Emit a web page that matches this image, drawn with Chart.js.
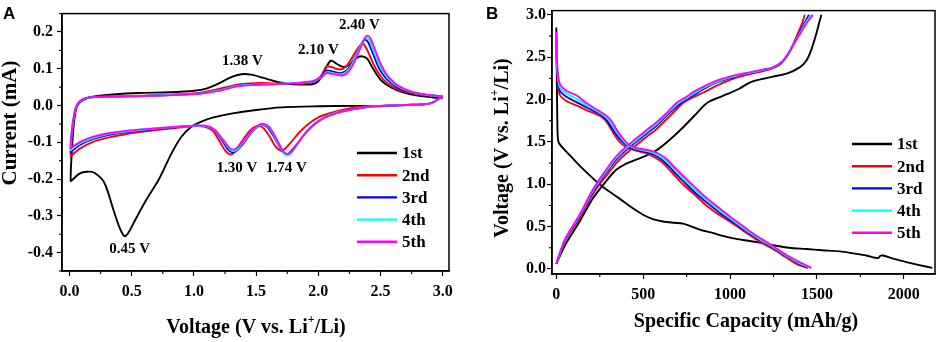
<!DOCTYPE html>
<html>
<head>
<meta charset="utf-8">
<script src="https://cdn.jsdelivr.net/npm/chart.js@4.4.0/dist/chart.umd.min.js"></script>
<style>
  body { margin: 0; background: #fff; }
  #wrap { position: relative; width: 941px; height: 342px; }
  #panelA { position: absolute; left: 0; top: 0; }
  #panelB { position: absolute; left: 470px; top: 0; }
</style>
</head>
<body>
<div id="wrap">
  <canvas id="panelA" width="470" height="342"></canvas>
  <canvas id="panelB" width="471" height="342"></canvas>
</div>
<script>
// ---- Datos ----
const cycleLabels = ['1st', '2nd', '3rd', '4th', '5th'];

// Panel A: voltamperometría cíclica [voltaje (V), corriente (mA)]
const cvCycle1 = [
  [2.63,-0.001],[2.3,-0.001],[2.0,-0.002],[1.7,-0.005],[1.5,-0.012],[1.3,-0.022],[1.15,-0.033],
  [1.05,-0.045],[0.98,-0.058],[0.9,-0.085],[0.82,-0.13],[0.72,-0.2],[0.62,-0.255],[0.53,-0.31],
  [0.47,-0.348],[0.44,-0.355],[0.4,-0.33],[0.35,-0.28],[0.28,-0.21],[0.2,-0.183],[0.14,-0.18],
  [0.08,-0.185],[0.03,-0.2],[0.01,-0.205],[0.02,-0.12],[0.035,-0.05],[0.055,-0.008],[0.08,0.008],
  [0.13,0.019],[0.2,0.025],[0.35,0.03],[0.55,0.034],[0.8,0.036],[1.0,0.04],[1.1,0.046],[1.2,0.06],
  [1.3,0.077],[1.38,0.085],[1.46,0.084],[1.55,0.076],[1.65,0.066],[1.75,0.059],[1.85,0.057],
  [1.95,0.058],[2.0,0.066],[2.05,0.095],[2.1,0.122],[2.15,0.113],[2.2,0.105],[2.25,0.11],
  [2.3,0.128],[2.345,0.134],[2.39,0.128],[2.44,0.1],[2.5,0.07],[2.58,0.05],[2.68,0.036],
  [2.8,0.027],[2.92,0.022],[3.0,0.02]
];
const cvCycle2 = [
  [3.0,0.025],[2.9,0.006],[2.75,0.002],[2.55,0.0],[2.4,-0.002],[2.3,-0.005],[2.2,-0.011],[2.1,-0.02],
  [2.0,-0.032],[1.92,-0.05],[1.85,-0.072],[1.78,-0.1],[1.73,-0.118],[1.7,-0.123],[1.66,-0.113],
  [1.6,-0.08],[1.55,-0.059],[1.5,-0.057],[1.45,-0.068],[1.38,-0.1],[1.32,-0.128],[1.29,-0.133],
  [1.25,-0.122],[1.2,-0.094],[1.15,-0.068],[1.08,-0.057],[1.0,-0.056],[0.85,-0.061],[0.65,-0.069],
  [0.45,-0.078],[0.3,-0.088],[0.18,-0.1],[0.08,-0.118],[0.02,-0.135],[0.01,-0.14],
  [0.015,-0.1],[0.03,-0.05],[0.05,-0.01],[0.08,0.008],[0.13,0.019],[0.2,0.023],[0.35,0.025],
  [0.6,0.027],[0.9,0.031],[1.05,0.035],[1.2,0.045],[1.35,0.057],[1.5,0.061],[1.65,0.06],[1.8,0.059],
  [1.95,0.064],[2.02,0.08],[2.065,0.106],[2.11,0.104],[2.17,0.098],[2.22,0.105],[2.28,0.135],
  [2.33,0.162],[2.355,0.168],[2.38,0.16],[2.42,0.13],[2.47,0.095],[2.52,0.072],[2.6,0.05],
  [2.7,0.037],[2.85,0.029],[2.97,0.026],[3.0,0.025]
];
const cvCycle3 = [
  [3.0,0.025],[2.9,0.006],[2.75,0.002],[2.6,0.0],[2.45,-0.002],[2.35,-0.006],[2.25,-0.012],[2.15,-0.02],
  [2.05,-0.033],[1.97,-0.05],[1.9,-0.074],[1.83,-0.105],[1.77,-0.128],[1.745,-0.134],[1.71,-0.125],
  [1.66,-0.095],[1.6,-0.062],[1.56,-0.053],[1.52,-0.056],[1.47,-0.07],[1.4,-0.102],[1.34,-0.124],
  [1.31,-0.128],[1.27,-0.118],[1.22,-0.092],[1.16,-0.066],[1.09,-0.056],[1.0,-0.055],[0.85,-0.059],
  [0.65,-0.066],[0.45,-0.073],[0.3,-0.081],[0.18,-0.092],[0.08,-0.108],[0.02,-0.124],[0.01,-0.128],
  [0.015,-0.09],[0.03,-0.045],[0.05,-0.008],[0.08,0.009],[0.13,0.019],[0.2,0.023],[0.35,0.024],
  [0.6,0.026],[0.9,0.03],[1.05,0.033],[1.2,0.042],[1.35,0.054],[1.5,0.058],[1.65,0.059],[1.8,0.06],
  [1.95,0.064],[2.02,0.077],[2.065,0.095],[2.11,0.093],[2.18,0.088],[2.24,0.1],[2.3,0.135],
  [2.35,0.17],[2.375,0.179],[2.4,0.172],[2.44,0.14],[2.49,0.1],[2.55,0.072],[2.63,0.05],
  [2.73,0.037],[2.87,0.029],[2.97,0.026],[3.0,0.025]
];
const cvCycle4 = [
  [3.0,0.025],[2.9,0.006],[2.75,0.002],[2.6,0.0],[2.45,-0.002],[2.35,-0.006],[2.25,-0.012],[2.15,-0.019],
  [2.05,-0.032],[1.97,-0.049],[1.9,-0.072],[1.84,-0.102],[1.78,-0.13],[1.75,-0.136],[1.72,-0.128],
  [1.67,-0.098],[1.61,-0.062],[1.565,-0.052],[1.52,-0.055],[1.47,-0.068],[1.4,-0.098],[1.35,-0.119],
  [1.315,-0.124],[1.28,-0.116],[1.22,-0.089],[1.16,-0.065],[1.09,-0.056],[1.0,-0.055],[0.85,-0.058],
  [0.65,-0.064],[0.45,-0.071],[0.3,-0.078],[0.18,-0.089],[0.08,-0.104],[0.02,-0.118],[0.01,-0.121],
  [0.015,-0.085],[0.03,-0.042],[0.05,-0.007],[0.08,0.01],[0.13,0.02],[0.2,0.023],[0.35,0.024],
  [0.6,0.026],[0.9,0.03],[1.05,0.033],[1.2,0.041],[1.35,0.053],[1.5,0.057],[1.65,0.059],[1.8,0.061],
  [1.95,0.065],[2.02,0.076],[2.065,0.09],[2.11,0.088],[2.19,0.085],[2.25,0.1],[2.31,0.14],
  [2.36,0.176],[2.39,0.184],[2.415,0.176],[2.45,0.145],[2.5,0.104],[2.56,0.074],[2.64,0.052],
  [2.74,0.038],[2.87,0.029],[2.97,0.026],[3.0,0.025]
];
const cvCycle5 = [
  [3.0,0.025],[2.9,0.006],[2.75,0.002],[2.6,0.0],[2.45,-0.002],[2.35,-0.006],[2.25,-0.012],[2.15,-0.02],
  [2.05,-0.033],[1.97,-0.05],[1.9,-0.073],[1.84,-0.1],[1.78,-0.127],[1.75,-0.132],[1.72,-0.125],
  [1.67,-0.095],[1.61,-0.06],[1.565,-0.05],[1.52,-0.053],[1.47,-0.066],[1.4,-0.095],[1.35,-0.115],
  [1.315,-0.12],[1.28,-0.113],[1.22,-0.087],[1.16,-0.064],[1.09,-0.055],[1.0,-0.055],[0.85,-0.058],
  [0.65,-0.063],[0.45,-0.069],[0.3,-0.076],[0.18,-0.086],[0.08,-0.1],[0.02,-0.113],[0.01,-0.116],
  [0.015,-0.08],[0.03,-0.04],[0.05,-0.006],[0.08,0.011],[0.13,0.021],[0.2,0.023],[0.35,0.024],
  [0.6,0.026],[0.9,0.029],[1.05,0.032],[1.2,0.04],[1.35,0.052],[1.5,0.056],[1.65,0.058],[1.8,0.061],
  [1.95,0.066],[2.02,0.075],[2.065,0.088],[2.11,0.086],[2.2,0.082],[2.26,0.1],[2.32,0.142],
  [2.37,0.182],[2.395,0.19],[2.42,0.182],[2.46,0.148],[2.51,0.106],[2.57,0.075],[2.65,0.052],
  [2.75,0.038],[2.88,0.029],[2.97,0.026],[3.0,0.025]
];

// Panel B: curvas de descarga y carga [capacidad (mAh/g), voltaje (V)]
const dis1 = [
  [0,2.85],[3,2.2],[6,1.7],[10,1.52],[20,1.47],[60,1.38],[134,1.22],[200,1.09],[249,1.0],[300,0.92],
  [364,0.83],[430,0.73],[499,0.64],[560,0.585],[614,0.56],[680,0.545],[729,0.535],[780,0.5],
  [825,0.465],[900,0.425],[959,0.39],[1020,0.36],[1094,0.335],[1170,0.31],[1247,0.28],[1340,0.25],
  [1439,0.235],[1530,0.22],[1631,0.207],[1720,0.18],[1785,0.158],[1851,0.127],[1865,0.155],
  [1880,0.158],[1950,0.115],[2015,0.081],[2090,0.045],[2165,0.012]
];
const chg1 = [
  [0,0.06],[50,0.28],[134,0.56],[200,0.8],[249,0.94],[300,1.07],[345,1.17],[400,1.24],[460,1.29],
  [520,1.34],[576,1.4],[650,1.52],[729,1.67],[800,1.82],[850,1.93],[883,1.98],[930,2.02],[979,2.06],
  [1055,2.13],[1113,2.2],[1180,2.24],[1247,2.27],[1330,2.31],[1401,2.38],[1440,2.46],[1470,2.6],
  [1497,2.78],[1515,2.92],[1526,3.0]
];
const dis2 = [
  [0,2.7],[5,2.3],[19,2.06],[60,1.98],[115,1.93],[180,1.87],[249,1.81],[280,1.76],[307,1.68],
  [335,1.58],[364,1.5],[400,1.44],[440,1.41],[490,1.38],[537,1.35],[580,1.3],[614,1.25],[660,1.15],
  [729,1.0],[800,0.87],[863,0.75],[930,0.65],[998,0.56],[1055,0.48],[1113,0.4],[1180,0.31],
  [1247,0.235],[1320,0.14],[1382,0.06],[1440,0.015]
];
const chg2 = [
  [0,0.06],[50,0.33],[134,0.6],[200,0.85],[249,1.0],[300,1.13],[345,1.25],[400,1.36],[460,1.46],
  [520,1.56],[576,1.65],[650,1.8],[700,1.9],[729,1.96],[780,2.02],[844,2.08],[920,2.16],[998,2.23],
  [1060,2.27],[1113,2.3],[1180,2.33],[1247,2.37],[1290,2.42],[1330,2.52],[1360,2.64],[1390,2.78],
  [1415,2.9],[1430,3.0]
];
const dis3 = [
  [0,2.75],[5,2.35],[19,2.11],[60,2.03],[115,1.97],[180,1.9],[249,1.83],[285,1.77],[312,1.69],
  [340,1.6],[372,1.52],[410,1.45],[460,1.41],[515,1.38],[560,1.35],[600,1.3],[640,1.23],[690,1.12],
  [729,1.04],[800,0.9],[863,0.79],[930,0.68],[998,0.58],[1055,0.5],[1113,0.42],[1180,0.33],
  [1247,0.25],[1320,0.155],[1390,0.07],[1450,0.012]
];
const chg3 = [
  [0,0.06],[50,0.34],[134,0.62],[200,0.87],[249,1.03],[300,1.17],[345,1.29],[400,1.4],[460,1.5],
  [520,1.6],[576,1.69],[645,1.83],[700,1.93],[740,1.99],[790,2.05],[844,2.12],[920,2.2],[998,2.25],
  [1060,2.29],[1113,2.31],[1180,2.34],[1247,2.375],[1300,2.44],[1337,2.54],[1368,2.66],[1400,2.79],
  [1428,2.9],[1455,3.0]
];
const dis4 = [
  [0,2.78],[5,2.38],[19,2.15],[60,2.07],[115,2.01],[180,1.93],[249,1.845],[287,1.79],[316,1.72],
  [343,1.63],[376,1.54],[416,1.46],[470,1.415],[526,1.39],[575,1.355],[617,1.3],[660,1.22],
  [710,1.11],[750,1.03],[800,0.93],[863,0.815],[930,0.705],[998,0.6],[1055,0.515],[1113,0.43],
  [1180,0.34],[1247,0.26],[1320,0.162],[1395,0.075],[1460,0.012]
];
const chg4 = [
  [0,0.06],[50,0.345],[134,0.63],[200,0.885],[249,1.045],[300,1.19],[345,1.31],[400,1.42],[460,1.52],
  [520,1.62],[576,1.71],[642,1.84],[695,1.945],[740,2.005],[790,2.07],[844,2.135],[920,2.21],
  [998,2.26],[1060,2.295],[1113,2.315],[1180,2.345],[1247,2.378],[1302,2.45],[1338,2.55],
  [1370,2.665],[1405,2.795],[1434,2.9],[1466,3.0]
];
const dis5 = [
  [0,2.8],[5,2.4],[19,2.19],[60,2.1],[115,2.05],[180,1.95],[249,1.86],[288,1.81],[320,1.74],
  [345,1.65],[380,1.55],[422,1.46],[480,1.42],[537,1.4],[590,1.36],[633,1.3],[680,1.2],[729,1.1],
  [800,0.96],[863,0.84],[930,0.73],[998,0.62],[1055,0.535],[1113,0.445],[1180,0.355],[1247,0.27],
  [1320,0.17],[1400,0.08],[1468,0.012]
];
const chg5 = [
  [0,0.06],[50,0.35],[134,0.64],[200,0.9],[249,1.06],[300,1.21],[345,1.33],[400,1.44],[460,1.54],
  [520,1.64],[576,1.73],[640,1.85],[691,1.96],[740,2.02],[790,2.09],[844,2.15],[920,2.22],[998,2.27],
  [1060,2.3],[1113,2.32],[1180,2.35],[1247,2.38],[1305,2.46],[1340,2.56],[1372,2.67],[1410,2.8],
  [1440,2.9],[1477,3.0]
];

// Etiquetas de los ejes
const cvVoltTicks = ['0.0', '0.5', '1.0', '1.5', '2.0', '2.5', '3.0'];
const cvCurrTicks = ['-0.4', '-0.3', '-0.2', '-0.1', '0.0', '0.1', '0.2'];
const gcdCapTicks = ['0', '500', '1000', '1500', '2000'];
const gcdVoltTicks = ['0.0', '0.5', '1.0', '1.5', '2.0', '2.5', '3.0'];

// Picos marcados en el panel A
const peakTexts = ['0.45 V', '1.30 V', '1.74 V', '1.38 V', '2.10 V', '2.40 V'];
const peakVolts = [0.483, 1.345, 1.743, 1.39, 2.0, 2.33];
const peakCurrs = [-0.39, -0.17, -0.17, 0.12, 0.151, 0.219];

// ---- Estilo ----
const cycleColors = ['#000000', '#ff0000', '#0000ff', '#00ffff', '#ff00ff'];
const SERIF = '"Liberation Serif", "Times New Roman", serif';
const SANS = '"Liberation Sans", Arial, sans-serif';

function toPoints(pairs) {
  return pairs.map(p => ({ x: p[0], y: p[1] }));
}

function makeDatasets(series) {
  return series.map((pairs, i) => ({
    label: cycleLabels[i % 5],
    data: toPoints(pairs),
    showLine: true,
    borderColor: cycleColors[i % 5],
    borderWidth: 1.9,
    pointRadius: 0,
    tension: 0.3,
    fill: false,
    order: 5 - (i % 5)
  }));
}

function minorsOf(labels) {
  const v = labels.map(Number);
  const out = [];
  for (let i = 0; i < v.length - 1; i++) out.push((v[i] + v[i + 1]) / 2);
  return out;
}

function axis(labels, minV, maxV, size, horizontal, pad) {
  const vals = labels.map(Number);
  return {
    type: 'linear',
    min: minV,
    max: maxV,
    afterBuildTicks: s => { s.ticks = vals.map(v => ({ value: v })); },
    afterFit: s => { if (horizontal) s.height = size; else s.width = size; },
    ticks: {
      color: '#000',
      padding: pad,
      font: { family: SERIF, weight: 'bold', size: 16 },
      callback: value => {
        const k = vals.findIndex(v => Math.abs(v - value) < 1e-9);
        return k >= 0 ? labels[k] : '';
      }
    },
    grid: { drawOnChartArea: false, drawTicks: true, tickLength: 5, tickColor: '#000', tickWidth: 1.2 },
    border: { display: true, color: '#000', width: 1.5 },
    title: { display: false }
  };
}

// Texto con superíndice: partes [texto, esSuperindice]
function drawRich(ctx, parts, cx, cy, rot, size) {
  ctx.save();
  ctx.translate(cx, cy);
  ctx.rotate(rot);
  const big = 'bold ' + size + 'px ' + SERIF;
  const small = 'bold ' + Math.round(size * 0.62) + 'px ' + SERIF;
  let total = 0;
  parts.forEach(p => { ctx.font = p[1] ? small : big; total += ctx.measureText(p[0]).width; });
  let x = -total / 2;
  ctx.fillStyle = '#000';
  ctx.textBaseline = 'middle';
  ctx.textAlign = 'left';
  parts.forEach(p => {
    ctx.font = p[1] ? small : big;
    ctx.fillText(p[0], x, p[1] ? -size * 0.42 : 0);
    x += ctx.measureText(p[0]).width;
  });
  ctx.restore();
}

const decor = {
  id: 'decor',
  afterDraw(chart, args, o) {
    const { ctx, chartArea: a } = chart;
    const sx = chart.scales.x, sy = chart.scales.y;
    ctx.save();
    ctx.strokeStyle = '#000';
    ctx.lineWidth = 1.5;
    ctx.strokeRect(a.left, a.top, a.right - a.left, a.bottom - a.top);
    // marcas menores
    ctx.lineWidth = 1.1;
    o.minorX.forEach(v => {
      const px = sx.getPixelForValue(v);
      ctx.beginPath(); ctx.moveTo(px, a.bottom); ctx.lineTo(px, a.bottom + 3); ctx.stroke();
    });
    o.minorY.forEach(v => {
      const py = sy.getPixelForValue(v);
      ctx.beginPath(); ctx.moveTo(a.left, py); ctx.lineTo(a.left - 3, py); ctx.stroke();
    });
    // títulos de ejes
    drawRich(ctx, o.xTitle, o.xTitlePos[0], o.xTitlePos[1], 0, 20);
    drawRich(ctx, o.yTitle, o.yTitlePos[0], o.yTitlePos[1], -Math.PI / 2, o.yTitleSize);
    // letra del panel
    ctx.font = 'bold 17px ' + SANS;
    ctx.fillStyle = '#000';
    ctx.textAlign = 'left';
    ctx.textBaseline = 'alphabetic';
    ctx.fillText(o.letter, o.letterPos[0], o.letterPos[1]);
    // leyenda
    ctx.font = 'bold 17px ' + SERIF;
    ctx.textBaseline = 'middle';
    cycleLabels.forEach((lab, i) => {
      const y = o.legend.y + i * o.legend.step;
      ctx.strokeStyle = cycleColors[i];
      ctx.lineWidth = 2.4;
      ctx.beginPath(); ctx.moveTo(o.legend.x, y); ctx.lineTo(o.legend.x + 40, y); ctx.stroke();
      ctx.fillStyle = '#000';
      ctx.fillText(lab, o.legend.x + 45, y + 1);
    });
    // etiquetas de picos
    if (o.peaks) {
      ctx.font = 'bold 15px ' + SERIF;
      ctx.textAlign = 'center';
      peakTexts.forEach((t, i) => {
        ctx.fillText(t, sx.getPixelForValue(peakVolts[i]), sy.getPixelForValue(peakCurrs[i]));
      });
    }
    ctx.restore();
  }
};

Chart.defaults.font.family = SERIF;

new Chart(document.getElementById('panelA'), {
  type: 'scatter',
  data: { datasets: makeDatasets([cvCycle1, cvCycle2, cvCycle3, cvCycle4, cvCycle5]) },
  options: {
    responsive: false,
    animation: false,
    devicePixelRatio: 1,
    layout: { padding: { left: 0, right: 21, top: 3, bottom: 0 } },
    scales: {
      x: axis(cvVoltTicks, -0.06, 3.05, 71, true, 6),
      y: axis(cvCurrTicks, -0.45, 0.25, 62, false, 4)
    },
    plugins: {
      legend: { display: false },
      tooltip: { enabled: false },
      decor: {
        minorX: minorsOf(cvVoltTicks),
        minorY: minorsOf(cvCurrTicks).concat([-0.45, 0.25]),
        xTitle: [['Voltage (V vs. Li', false], ['+', true], ['/Li)', false]],
        xTitlePos: [256, 328],
        yTitle: [['Current (mA)', false]],
        yTitlePos: [11, 123],
        yTitleSize: 21,
        letter: 'A',
        letterPos: [3, 19],
        legend: { x: 357, y: 153, step: 22.2 },
        peaks: true
      }
    }
  },
  plugins: [decor]
});

new Chart(document.getElementById('panelB'), {
  type: 'scatter',
  data: { datasets: makeDatasets([dis1, dis2, dis3, dis4, dis5, chg1, chg2, chg3, chg4, chg5]) },
  options: {
    responsive: false,
    animation: false,
    devicePixelRatio: 1,
    layout: { padding: { left: 0, right: 6, top: 4, bottom: 0 } },
    scales: {
      x: axis(gcdCapTicks, -25, 2180, 68, true, 6),
      y: axis(gcdVoltTicks, -0.06, 3.05, 82, false, 1)
    },
    plugins: {
      legend: { display: false },
      tooltip: { enabled: false },
      decor: {
        minorX: minorsOf(gcdCapTicks),
        minorY: minorsOf(gcdVoltTicks),
        xTitle: [['Specific Capacity (mAh/g)', false]],
        xTitlePos: [276, 322],
        yTitle: [['Voltage (V vs. Li', false], ['+', true], ['/Li)', false]],
        yTitlePos: [33, 148],
        yTitleSize: 20,
        letter: 'B',
        letterPos: [16, 19],
        legend: { x: 382, y: 144, step: 22.2 },
        peaks: false
      }
    }
  },
  plugins: [decor]
});
</script>
</body>
</html>
